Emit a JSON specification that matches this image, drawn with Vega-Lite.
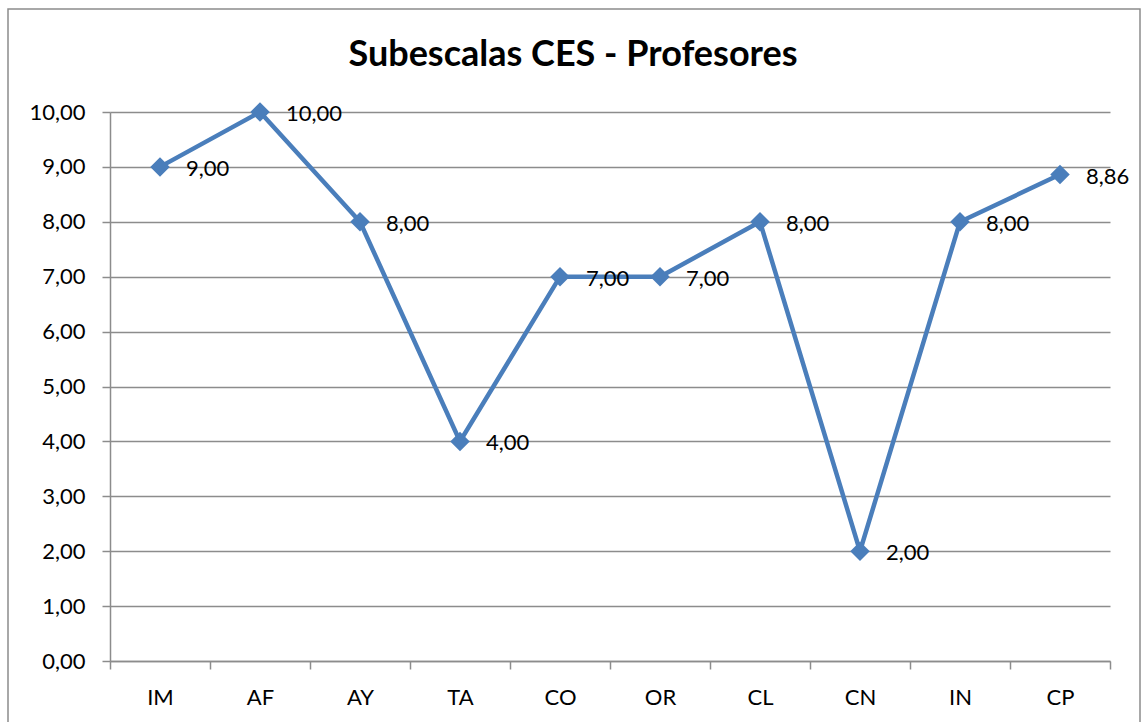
{
  "$schema": "https://vega.github.io/schema/vega-lite/v6.json",
  "width": 1132,
  "height": 716,
  "autosize": {"type": "none"},
  "padding": {"left": 8, "top": 9, "right": 4, "bottom": 0},
  "background": "white",
  "title": {
    "text": "Subescalas CES - Profesores",
    "font": "Lato",
    "fontSize": 36,
    "fontWeight": "bold",
    "color": "black",
    "anchor": "middle",
    "frame": "group",
    "baseline": "middle",
    "offset": 0,
    "dy": 82,
    "dx": -1
  },
  "data": {
    "values": [
      {"sub": "IM", "v": 9.0},
      {"sub": "AF", "v": 10.0},
      {"sub": "AY", "v": 8.0},
      {"sub": "TA", "v": 4.0},
      {"sub": "CO", "v": 7.0},
      {"sub": "OR", "v": 7.0},
      {"sub": "CL", "v": 8.0},
      {"sub": "CN", "v": 2.0},
      {"sub": "IN", "v": 8.0},
      {"sub": "CP", "v": 8.86}
    ]
  },
  "encoding": {
    "x": {
      "field": "sub",
      "type": "nominal",
      "sort": null,
      "scale": {"type": "band", "paddingInner": 0, "paddingOuter": 0, "range": [102, 1102]},
      "axis": {
        "orient": "bottom",
        "offset": -64,
        "title": null,
        "labelAngle": 0,
        "tickBand": "extent",
        "tickSize": 8,
        "tickColor": "#8c8c8c",
        "tickWidth": 1.5,
        "domainColor": "#8c8c8c",
        "domainWidth": 1.5,
        "grid": false,
        "labelFont": "Lato",
        "labelFontSize": 22,
        "labelColor": "black",
        "labelPadding": 18
      }
    },
    "y": {
      "field": "v",
      "type": "quantitative",
      "scale": {"domain": [0, 10], "range": [652, 103], "nice": false, "zero": true},
      "axis": {
        "orient": "left",
        "offset": -102,
        "title": null,
        "values": [0, 1, 2, 3, 4, 5, 6, 7, 8, 9, 10],
        "format": ".2f",
        "tickSize": 8,
        "tickColor": "#8c8c8c",
        "tickWidth": 1.5,
        "domainColor": "#8c8c8c",
        "domainWidth": 1.5,
        "grid": true,
        "gridColor": "#8c8c8c",
        "gridWidth": 1.5,
        "labelFont": "Lato",
        "labelFontSize": 22,
        "labelColor": "black",
        "labelPadding": 17
      }
    }
  },
  "layer": [
    {"mark": {"type": "line", "color": "#4a7ebb", "strokeWidth": 4.5}},
    {"mark": {"type": "point", "shape": "diamond", "filled": true, "opacity": 1, "size": 380, "color": "#4a7ebb"}},
    {
      "mark": {"type": "text", "align": "left", "baseline": "middle", "dx": 26, "dy": 2, "font": "Lato", "fontSize": 22, "color": "black"},
      "encoding": {"text": {"field": "v", "type": "quantitative", "format": ".2f"}}
    }
  ],
  "config": {
    "view": {"stroke": "#8c8c8c", "strokeWidth": 1.5},
    "locale": {"number": {"decimal": ",", "thousands": ".", "grouping": [3], "currency": ["", " €"]}}
  }
}
